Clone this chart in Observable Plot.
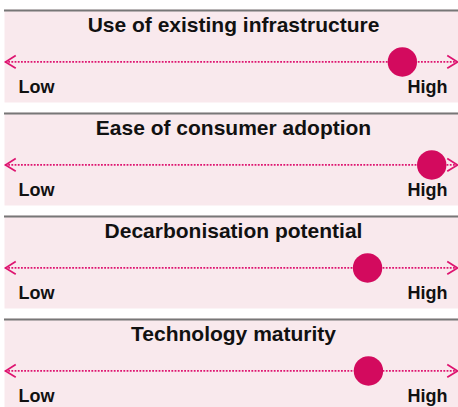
<!DOCTYPE html>
<html>
<head>
<meta charset="utf-8">
<script src="https://cdn.jsdelivr.net/npm/d3@7"></script>
<script src="https://cdn.jsdelivr.net/npm/@observablehq/plot@0.6"></script>
<style>
  html, body { margin: 0; padding: 0; background: #ffffff; overflow: hidden; }
  #chart { width: 458px; height: 407px; overflow: hidden; }
</style>
</head>
<body>
<div id="chart"></div>
<script>
// ---- data ----
const categories = [
  "Use of existing infrastructure",
  "Ease of consumer adoption",
  "Decarbonisation potential",
  "Technology maturity"
];
const scores = [0.878, 0.943, 0.801, 0.803]; // position on the Low → High scale (0–1)
const endLabels = ["Low", "High"];
const endValues = [0, 1];

// ---- table built from the arrays ----
const rows = categories.map((category, i) => ({category, score: scores[i]}));
const ends = endLabels.map((label, i) => ({label, value: endValues[i]}));
const lowEnd = ends.filter(d => d.value === 0);
const highEnd = ends.filter(d => d.value === 1);

// ---- styling ----
const bg = "#f9e9ed";
const magenta = "#d30a5e";
const lineColor = "#de1470";
const border = "#777777";

// open chevron symbols for the two arrow heads
const chevronLeft = {
  draw(ctx, size) {
    const r = Math.sqrt(size / Math.PI);
    ctx.moveTo(1.6 * r, -r);
    ctx.lineTo(0, 0);
    ctx.lineTo(1.6 * r, r);
  }
};
const chevronRight = {
  draw(ctx, size) {
    const r = Math.sqrt(size / Math.PI);
    ctx.moveTo(-1.6 * r, -r);
    ctx.lineTo(0, 0);
    ctx.lineTo(-1.6 * r, r);
  }
};

const LINE_Y = 53, TITLE_Y = 15.5, LABEL_Y = 78.7;
const labelStyle = {fontSize: 18, fontWeight: "bold", fill: "#111", lineAnchor: "middle"};

const chart = Plot.plot({
  width: 458,
  height: 407,
  marginTop: 7,
  marginBottom: -6,
  marginLeft: 4,
  marginRight: 0,
  style: {fontFamily: "'Liberation Sans', Arial, Helvetica, sans-serif", background: "transparent"},
  fy: {domain: categories, axis: null, paddingInner: 0.096, paddingOuter: 0},
  x: {domain: [0, 1], axis: null, insetLeft: 1, insetRight: 1},
  y: {domain: [0, 94], reverse: true, axis: null},
  marks: [
    Plot.frame({fill: bg, stroke: "none"}),
    Plot.ruleY([0], {stroke: border, strokeWidth: 2, dy: 1}),
    Plot.text(rows, {
      fy: "category", text: "category", y: TITLE_Y, dx: 2,
      fontSize: 21, fontWeight: "bold", fill: "#111", lineAnchor: "middle"
    }),
    Plot.ruleY(rows, {
      fy: "category", y: LINE_Y, x1: 0, x2: 1,
      stroke: lineColor, strokeWidth: 1.8, strokeDasharray: "1.8 1.4"
    }),
    Plot.dot(lowEnd, {
      x: "value", y: LINE_Y, symbol: chevronLeft, r: 6.4,
      fill: "none", stroke: lineColor, strokeWidth: 1.7, strokeLinejoin: "miter"
    }),
    Plot.dot(highEnd, {
      x: "value", y: LINE_Y, symbol: chevronRight, r: 6.4,
      fill: "none", stroke: lineColor, strokeWidth: 1.7, strokeLinejoin: "miter"
    }),
    Plot.dot(rows, {
      fy: "category", x: "score", y: LINE_Y, r: 14.7, fill: magenta, stroke: "none"
    }),
    Plot.text(lowEnd, {x: "value", y: LABEL_Y, text: "label", textAnchor: "start", dx: 13, ...labelStyle}),
    Plot.text(highEnd, {x: "value", y: LABEL_Y, text: "label", textAnchor: "end", dx: -10, ...labelStyle})
  ]
});

document.getElementById("chart").append(chart);
</script>
</body>
</html>
